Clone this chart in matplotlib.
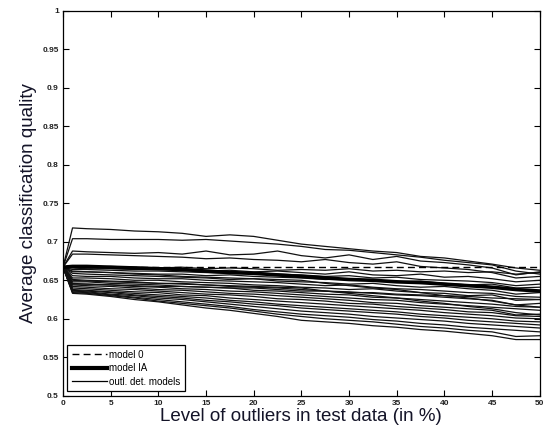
import matplotlib
matplotlib.use("Agg")
import matplotlib.pyplot as plt
from matplotlib.lines import Line2D

plt.rcParams['font.family'] = ['Liberation Sans', 'DejaVu Sans']

# Outlier level in the test data (%)
outlier_level = [0, 1, 2.5, 5, 7.5, 10, 12.5, 15, 17.5, 20, 22.5, 25,
                 27.5, 30, 32.5, 35, 37.5, 40, 42.5, 45, 47.5, 50]

# Baseline model without outlier handling
model_0 = [0.667] * len(outlier_level)

# Model IA
model_ia = [0.667, 0.668, 0.668, 0.667, 0.666, 0.665, 0.664, 0.662, 0.660, 0.659, 0.657,
            0.655, 0.653, 0.651, 0.650, 0.648, 0.647, 0.645, 0.643, 0.641, 0.638, 0.636]

# Models with outlier detection
outl_det_models = [
    [0.667, 0.718, 0.717, 0.716, 0.714, 0.713, 0.711, 0.707, 0.709, 0.707, 0.702, 0.697, 0.694, 0.691, 0.688, 0.686, 0.681, 0.679, 0.675, 0.671, 0.666, 0.663],
    [0.667, 0.704, 0.704, 0.703, 0.703, 0.703, 0.702, 0.703, 0.701, 0.699, 0.697, 0.694, 0.690, 0.689, 0.686, 0.683, 0.680, 0.676, 0.673, 0.670, 0.662, 0.658],
    [0.667, 0.688, 0.687, 0.686, 0.685, 0.686, 0.684, 0.688, 0.683, 0.684, 0.688, 0.682, 0.679, 0.683, 0.677, 0.681, 0.675, 0.673, 0.670, 0.666, 0.657, 0.661],
    [0.667, 0.684, 0.684, 0.683, 0.682, 0.681, 0.680, 0.678, 0.679, 0.677, 0.676, 0.674, 0.677, 0.673, 0.671, 0.674, 0.668, 0.666, 0.664, 0.660, 0.653, 0.655],
    [0.667, 0.668, 0.667, 0.668, 0.667, 0.666, 0.667, 0.665, 0.666, 0.665, 0.663, 0.664, 0.663, 0.665, 0.662, 0.663, 0.661, 0.662, 0.660, 0.661, 0.658, 0.660],
    [0.667, 0.666, 0.665, 0.665, 0.664, 0.665, 0.663, 0.662, 0.663, 0.661, 0.662, 0.660, 0.658, 0.661, 0.657, 0.656, 0.658, 0.654, 0.655, 0.652, 0.648, 0.650],
    [0.667, 0.664, 0.664, 0.663, 0.662, 0.662, 0.661, 0.660, 0.659, 0.660, 0.658, 0.657, 0.655, 0.656, 0.653, 0.654, 0.651, 0.650, 0.649, 0.647, 0.643, 0.645],
    [0.667, 0.662, 0.661, 0.660, 0.658, 0.657, 0.655, 0.654, 0.653, 0.652, 0.651, 0.650, 0.646, 0.643, 0.640, 0.638, 0.634, 0.630, 0.627, 0.623, 0.618, 0.615],
    [0.667, 0.661, 0.661, 0.660, 0.659, 0.658, 0.658, 0.656, 0.657, 0.655, 0.654, 0.653, 0.651, 0.652, 0.649, 0.648, 0.649, 0.646, 0.644, 0.645, 0.640, 0.641],
    [0.667, 0.659, 0.658, 0.657, 0.656, 0.655, 0.654, 0.653, 0.651, 0.652, 0.649, 0.648, 0.647, 0.645, 0.646, 0.643, 0.641, 0.642, 0.639, 0.637, 0.632, 0.634],
    [0.667, 0.656, 0.655, 0.655, 0.653, 0.652, 0.652, 0.650, 0.649, 0.648, 0.647, 0.645, 0.643, 0.644, 0.641, 0.639, 0.638, 0.636, 0.634, 0.633, 0.629, 0.628],
    [0.667, 0.653, 0.653, 0.652, 0.650, 0.650, 0.648, 0.647, 0.646, 0.644, 0.643, 0.641, 0.640, 0.638, 0.639, 0.636, 0.634, 0.633, 0.630, 0.631, 0.624, 0.625],
    [0.667, 0.651, 0.650, 0.649, 0.648, 0.646, 0.646, 0.644, 0.642, 0.641, 0.640, 0.638, 0.636, 0.635, 0.633, 0.631, 0.630, 0.628, 0.626, 0.624, 0.618, 0.620],
    [0.667, 0.650, 0.649, 0.648, 0.647, 0.646, 0.645, 0.644, 0.643, 0.642, 0.641, 0.640, 0.636, 0.633, 0.630, 0.627, 0.623, 0.620, 0.616, 0.613, 0.608, 0.605],
    [0.667, 0.648, 0.648, 0.646, 0.645, 0.644, 0.642, 0.641, 0.640, 0.637, 0.636, 0.634, 0.632, 0.631, 0.628, 0.627, 0.625, 0.623, 0.621, 0.619, 0.616, 0.615],
    [0.667, 0.646, 0.645, 0.644, 0.642, 0.641, 0.639, 0.638, 0.636, 0.635, 0.633, 0.631, 0.629, 0.627, 0.625, 0.624, 0.621, 0.619, 0.617, 0.615, 0.613, 0.611],
    [0.667, 0.645, 0.645, 0.644, 0.643, 0.642, 0.642, 0.641, 0.640, 0.640, 0.638, 0.636, 0.636, 0.634, 0.634, 0.632, 0.631, 0.630, 0.629, 0.627, 0.626, 0.625],
    [0.667, 0.644, 0.643, 0.642, 0.640, 0.638, 0.637, 0.635, 0.633, 0.632, 0.630, 0.628, 0.626, 0.624, 0.621, 0.620, 0.617, 0.615, 0.613, 0.611, 0.605, 0.606],
    [0.667, 0.642, 0.641, 0.639, 0.638, 0.636, 0.634, 0.632, 0.631, 0.629, 0.626, 0.625, 0.623, 0.620, 0.619, 0.616, 0.614, 0.612, 0.609, 0.608, 0.604, 0.603],
    [0.667, 0.640, 0.639, 0.637, 0.635, 0.634, 0.631, 0.630, 0.627, 0.625, 0.623, 0.621, 0.619, 0.617, 0.615, 0.613, 0.611, 0.608, 0.606, 0.604, 0.601, 0.600],
    [0.667, 0.638, 0.637, 0.635, 0.633, 0.631, 0.629, 0.627, 0.624, 0.622, 0.619, 0.617, 0.615, 0.613, 0.611, 0.609, 0.606, 0.604, 0.602, 0.600, 0.597, 0.596],
    [0.667, 0.637, 0.636, 0.634, 0.631, 0.629, 0.627, 0.624, 0.622, 0.619, 0.617, 0.614, 0.612, 0.610, 0.608, 0.606, 0.603, 0.601, 0.598, 0.596, 0.594, 0.592],
    [0.667, 0.636, 0.635, 0.632, 0.630, 0.627, 0.625, 0.622, 0.619, 0.616, 0.613, 0.610, 0.608, 0.606, 0.603, 0.601, 0.599, 0.597, 0.594, 0.592, 0.590, 0.588],
    [0.667, 0.635, 0.634, 0.631, 0.628, 0.625, 0.622, 0.619, 0.616, 0.612, 0.609, 0.606, 0.604, 0.602, 0.599, 0.597, 0.594, 0.592, 0.589, 0.587, 0.585, 0.583],
    [0.667, 0.634, 0.633, 0.630, 0.627, 0.623, 0.620, 0.617, 0.614, 0.610, 0.606, 0.603, 0.600, 0.598, 0.596, 0.593, 0.590, 0.588, 0.585, 0.583, 0.577, 0.578],
    [0.667, 0.633, 0.632, 0.629, 0.625, 0.622, 0.618, 0.614, 0.611, 0.607, 0.603, 0.598, 0.596, 0.594, 0.591, 0.589, 0.586, 0.584, 0.581, 0.578, 0.573, 0.573],
]

x_ticks = [0, 5, 10, 15, 20, 25, 30, 35, 40, 45, 50]
y_ticks = [0.5, 0.55, 0.6, 0.65, 0.7, 0.75, 0.8, 0.85, 0.9, 0.95, 1]
y_ticklabels = ['0.5', '0.55', '0.6', '0.65', '0.7', '0.75', '0.8', '0.85', '0.9', '0.95', '1']

fig = plt.figure(figsize=(5.43, 4.33), dpi=100)
ax = fig.add_axes([0.116, 0.086, 0.878, 0.889])

for series in outl_det_models:
    ax.plot(outlier_level, series, color='#111111', lw=0.9)
ax.plot(outlier_level, model_ia, color='black', lw=2.6)
ax.plot(outlier_level, model_0, color='black', lw=1.0, ls=(0, (5, 3)))

ax.set_xlim(0, 50)
ax.set_ylim(0.5, 1)
ax.set_xticks(x_ticks)
ax.set_xticklabels([str(v) for v in x_ticks])
ax.set_yticks(y_ticks)
ax.set_yticklabels(y_ticklabels)
ax.tick_params(direction='in', length=4, width=0.8, labelsize=6,
               top=True, right=True, pad=3)
for lbl in ax.get_xticklabels() + ax.get_yticklabels():
    lbl.set_fontweight('bold')
    lbl.set_color('#222222')
for spine in ax.spines.values():
    spine.set_linewidth(0.9)

ax.set_xlabel('Level of outliers in test data (in %)', fontsize=13.5,
              color='#141428', labelpad=1)
ax.set_ylabel('Average classification quality', fontsize=13.5,
              color='#141428', labelpad=4)

handles = [
    Line2D([], [], color='black', lw=1.0, ls=(0, (5, 3))),
    Line2D([], [], color='black', lw=3.0),
    Line2D([], [], color='black', lw=0.9),
]
leg = ax.legend(handles, ['model 0', 'model IA', 'outl. det. models'],
                loc='lower left', fontsize=7, frameon=True, fancybox=False,
                edgecolor='black', framealpha=1, handlelength=3.6,
                handletextpad=0.15, borderpad=0.5, labelspacing=0.35,
                borderaxespad=0.45)
leg.get_frame().set_linewidth(0.9)

fig.savefig('out.png', dpi=100)
